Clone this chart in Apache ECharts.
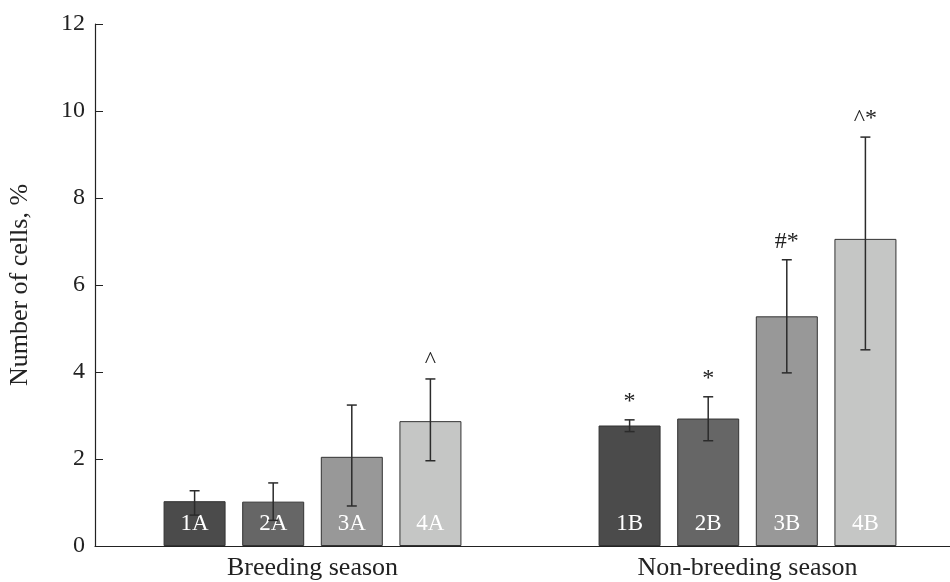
<!DOCTYPE html>
<html>
<head>
<meta charset="utf-8">
<title>Number of cells</title>
<script src="https://cdn.jsdelivr.net/npm/echarts@6.0.0/dist/echarts.min.js"></script>
<style>
  html, body { margin: 0; padding: 0; background: #fff; }
  #chart { width: 950px; height: 582px; }
</style>
</head>
<body>
<div id="chart"></div>
<script>
// data
const seasons = ['Breeding season', 'Non-breeding season'];
const barNames = [['1A', '1B'], ['2A', '2B'], ['3A', '3B'], ['4A', '4B']];
const means = [[1.03, 2.77], [1.02, 2.93], [2.05, 5.28], [2.87, 7.06]];
const errLow = [[0.71, 2.63], [0.59, 2.42], [0.92, 3.98], [1.96, 4.51]];
const errHigh = [[1.27, 2.90], [1.45, 3.43], [3.24, 6.58], [3.84, 9.40]];
const marks = [['', '*'], ['', '*'], ['', '#*'], ['^', '^*']];
const yMin = 0, yMax = 12, yStep = 2;

const barColors = ['#4b4b4b', '#666666', '#989898', '#c5c6c5'];
const FONT = "'Liberation Serif', 'DejaVu Serif', serif";
const BAR_W = 62;
const BAR_GAP = 16.6;

const chart = echarts.init(document.getElementById('chart'));

// error bars + significance marks
let errData = [];
for (let s = 0; s < barNames.length; s++) {
  for (let g = 0; g < seasons.length; g++) {
    errData.push([g, s, errLow[s][g], errHigh[s][g], marks[s][g]]);
  }
}

function renderErr(params, api) {
  const g = api.value(0);
  const s = api.value(1);
  const cx = api.coord([g, 0])[0] + (s - 1.5) * (BAR_W + BAR_GAP);
  const yLo = api.coord([g, api.value(2)])[1];
  const yHi = api.coord([g, api.value(3)])[1];
  const mark = errData[params.dataIndex][4];
  const st = {stroke: '#2b2b2b', lineWidth: 1.5};
  const children = [
    {type: 'line', shape: {x1: cx, y1: yLo, x2: cx, y2: yHi}, style: st},
    {type: 'line', shape: {x1: cx - 5, y1: yLo, x2: cx + 5, y2: yLo}, style: st},
    {type: 'line', shape: {x1: cx - 5, y1: yHi, x2: cx + 5, y2: yHi}, style: st}
  ];
  if (mark) {
    children.push({
      type: 'text',
      style: {
        text: mark, x: cx, y: yHi - 6,
        align: 'center', verticalAlign: 'bottom',
        font: '24px ' + FONT, fill: '#222'
      }
    });
  }
  return {type: 'group', children: children};
}

let series = barNames.map(function (names, s) {
  return {
    type: 'bar',
    name: names.join('/'),
    data: means[s],
    barWidth: BAR_W,
    barGap: (BAR_GAP / BAR_W * 100).toFixed(1) + '%',
    itemStyle: {color: barColors[s], borderColor: '#333', borderWidth: 1},
    label: {
      show: true,
      position: 'insideBottom',
      distance: 11,
      formatter: function (p) { return names[p.dataIndex]; },
      color: '#fff',
      fontFamily: FONT,
      fontSize: 23
    },
    silent: true
  };
});
series.push({
  type: 'custom',
  data: errData,
  renderItem: renderErr,
  z: 5,
  silent: true
});

chart.setOption({
  animation: false,
  grid: {left: 95, top: 24, bottom: 36, width: 870, outerBoundsMode: 'none'},
  xAxis: {
    type: 'category',
    data: seasons,
    axisTick: {show: false},
    axisLine: {lineStyle: {color: '#222', width: 1.2}},
    axisLabel: {color: '#222', fontFamily: FONT, fontSize: 26, margin: 9}
  },
  yAxis: {
    type: 'value',
    min: yMin,
    max: yMax,
    interval: yStep,
    name: 'Number of cells, %',
    nameLocation: 'middle',
    nameGap: 62,
    nameTextStyle: {color: '#222', fontFamily: FONT, fontSize: 26},
    splitLine: {show: false},
    axisLine: {show: true, lineStyle: {color: '#222', width: 1.2}},
    axisTick: {show: true, inside: true, length: 8, lineStyle: {color: '#222'}},
    axisLabel: {color: '#222', fontFamily: FONT, fontSize: 24, margin: 10}
  },
  series: series
});
</script>
</body>
</html>
